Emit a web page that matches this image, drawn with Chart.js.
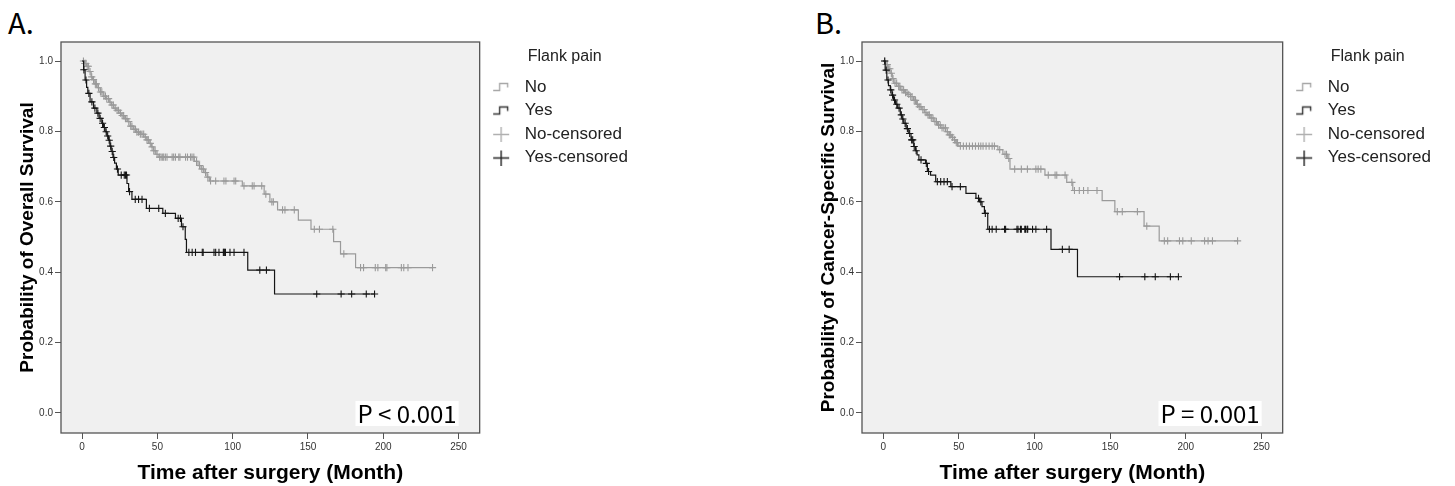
<!DOCTYPE html>
<html>
<head>
<meta charset="utf-8">
<script src="https://cdn.jsdelivr.net/npm/chart.js@4.4.1/dist/chart.umd.min.js"></script>
<style>
  body { margin: 0; background: #fff; width: 1455px; height: 486px; overflow: hidden; position: relative; }
  .panel { position: absolute; top: 0; }
  .tag { position: absolute; top: 7px; line-height: 1; font-family: "Noto Sans CJK SC", "Noto Sans", sans-serif; font-size: 29px; color: #000; }
</style>
</head>
<body>
<div class="tag" style="left:8px">A.</div>
<div class="tag" style="left:815px">B.</div>
<canvas id="chartA" class="panel" style="left:0" width="652" height="486"></canvas>
<canvas id="chartB" class="panel" style="left:801px" width="654" height="486"></canvas>
<script>
const xTicks = [0, 50, 100, 150, 200, 250];
const yTicks = [0, 0.2, 0.4, 0.6, 0.8, 1.0];
const legendNames = ["No", "Yes", "No-censored", "Yes-censored"];

// Panel A - overall survival (months, survival prob.)
const aNoTime = [0, 1.5, 3, 4.5, 6, 7, 8.5, 10, 12, 14, 16, 18, 19.5, 21, 22.5, 24.5, 26, 28, 30, 32, 34, 36, 38.5, 41, 43, 44.5, 46, 47.5, 49, 51, 74.5, 77, 79, 81, 83, 84.5, 106.4, 120.9, 124.7, 129.8, 143.6, 152, 167, 171.6, 181.6];
const aNoSurv = [1, 0.993, 0.985, 0.97, 0.955, 0.947, 0.935, 0.924, 0.912, 0.9, 0.893, 0.883, 0.875, 0.866, 0.86, 0.852, 0.845, 0.836, 0.828, 0.815, 0.806, 0.798, 0.792, 0.784, 0.776, 0.766, 0.756, 0.745, 0.735, 0.727, 0.715, 0.703, 0.693, 0.683, 0.67, 0.659, 0.645, 0.622, 0.6, 0.577, 0.548, 0.522, 0.487, 0.452, 0.413];
const aNoCens = [0.9, 1.8, 2.5, 3.4, 4.2, 5.3, 6.4, 7.6, 8.8, 9.5, 10.9, 12.2, 13.1, 14.5, 15.5, 16.4, 17.6, 18.6, 19.8, 20.8, 22, 23.2, 24.2, 25.5, 26.6, 27.6, 28.8, 29.8, 31, 32.3, 33.1, 34.5, 35.5, 36.4, 37.5, 38.7, 39.8, 40.9, 42, 43.1, 44, 45.3, 46.5, 47.6, 48.5, 49.8, 51.5, 52.5, 53.5, 54.2, 55.3, 56.4, 59.8, 60.8, 62, 64.2, 65, 68.7, 70, 72, 73, 74.2, 76, 78, 79.5, 80.5, 82, 83.5, 85.3, 88.7, 94.2, 95.5, 100.9, 102, 107.5, 113, 114.2, 119.3, 122, 126, 127, 133.1, 134.7, 140.9, 154.2, 157.6, 166.5, 173.8, 184.9, 186.9, 194.7, 196.4, 201.6, 202.4, 212, 213.6, 216.4, 232.7];
const aYesTime = [0, 1, 2, 3, 3.8, 5.3, 7.6, 9.8, 11.3, 13.1, 14.2, 15.3, 16.5, 17.6, 18.5, 19.3, 20.5, 21.6, 22.8, 24, 29.8, 30.9, 33.1, 42.7, 53.6, 62, 66, 68.5, 69.3, 110, 127.8];
const aYesSurv = [1, 0.975, 0.946, 0.925, 0.908, 0.884, 0.866, 0.852, 0.837, 0.823, 0.811, 0.799, 0.787, 0.775, 0.758, 0.743, 0.726, 0.71, 0.693, 0.676, 0.652, 0.629, 0.607, 0.581, 0.567, 0.553, 0.529, 0.493, 0.456, 0.406, 0.338];
const aYesCens = [1.2, 2.6, 4.5, 6.5, 8.5, 10.5, 12, 13.6, 14.8, 16, 17, 18, 19, 20, 21, 23.5, 26, 28, 28.8, 29.5, 31.5, 35.3, 37.5, 39.8, 44.7, 50.9, 55.3, 63.8, 65.3, 67, 70.9, 73.1, 75.3, 79.8, 80.4, 87.6, 88.7, 90.9, 93.8, 94.2, 94.7, 95.2, 98.2, 100.9, 107.5, 118, 122.4, 155.8, 172, 179, 188.7, 194.2];

// Panel B - cancer-specific survival
const bNoTime = [0, 1.5, 3, 4.5, 6, 7, 9, 11.3, 14, 16, 18, 20, 22, 23.6, 25.5, 27.5, 29.1, 31, 33.5, 35.8, 38, 41.3, 43.5, 45, 46.9, 48, 49.5, 75.8, 79.1, 82, 83.8, 106.9, 121.3, 125.3, 144.7, 153.1, 172.4, 182.4];
const bNoSurv = [1, 0.99, 0.978, 0.965, 0.95, 0.937, 0.928, 0.918, 0.91, 0.905, 0.899, 0.888, 0.877, 0.87, 0.862, 0.853, 0.847, 0.838, 0.828, 0.818, 0.81, 0.799, 0.79, 0.783, 0.776, 0.768, 0.758, 0.748, 0.735, 0.723, 0.693, 0.676, 0.655, 0.632, 0.603, 0.572, 0.531, 0.489];
const bNoCens = [1, 1.9, 2.7, 3.6, 4.4, 5.4, 6.5, 7.8, 8.9, 10.2, 11, 12.4, 13.5, 14.8, 15.8, 16.9, 18.2, 19.1, 20.5, 21.4, 22.6, 23.8, 24.9, 26.2, 27.1, 28.3, 29.6, 30.5, 31.8, 32.9, 34.2, 35.2, 36.6, 37.7, 38.9, 40.1, 41.2, 42.4, 43.7, 44.6, 45.8, 47.2, 48.3, 49.1, 51, 53, 55, 57, 59, 61, 63, 64.5, 66, 68, 70, 72, 73.5, 77, 80.5, 81.5, 83, 86.9, 91.3, 95.3, 100.9, 102.4, 104.2, 109.1, 113.6, 114.7, 120.2, 124.7, 126.4, 129.6, 132.4, 135.3, 141.3, 154.7, 158, 168, 174.2, 185.8, 188, 195.8, 198, 203.6, 212.4, 214.7, 217.6, 234.2];
const bYesTime = [0, 1.3, 2.4, 3.5, 4.7, 5.8, 6.9, 8.2, 9.6, 11.3, 12.5, 13.6, 15.2, 16.9, 18.4, 20.2, 21.3, 22.4, 23.6, 28, 29.2, 31.3, 34.7, 44.7, 54.7, 61.3, 63.6, 65.3, 66.9, 69.1, 110.9, 128.4];
const bYesSurv = [1, 0.974, 0.946, 0.93, 0.918, 0.903, 0.889, 0.877, 0.866, 0.847, 0.835, 0.823, 0.808, 0.794, 0.776, 0.757, 0.745, 0.733, 0.719, 0.709, 0.686, 0.676, 0.657, 0.643, 0.624, 0.61, 0.6, 0.586, 0.567, 0.522, 0.465, 0.387];
const bYesCens = [1, 2, 3.2, 5, 6.2, 7.5, 9, 10.5, 12, 13, 14.5, 16, 17.5, 18.8, 19.5, 20.5, 21.8, 25, 28.5, 30, 35.8, 38, 40.2, 42.4, 45.5, 51, 63, 64.5, 67.5, 70.2, 72, 74.7, 80.2, 80.9, 88.4, 89.1, 90.7, 91.3, 93.6, 94, 95.1, 95.5, 98.7, 100.9, 108, 118.4, 122.9, 156.2, 172.9, 179.8, 189.8, 195.1];

const GREY = "#9a9a9a";
const BLACK = "#151515";

// survival value of a step curve at time t
function survAt(times, surv, t) {
    let s = surv[0];
    for (let i = 0; i < times.length; i++) {
        if (times[i] <= t) s = surv[i];
    }
    return s;
}

function curvePoints(times, surv, cens) {
    const pts = times.map((t, i) => ({ x: t, y: surv[i] }));
    const last = Math.max(...cens);
    if (last > times[times.length - 1]) pts.push({ x: last, y: surv[surv.length - 1] });
    return pts;
}

function censorPoints(times, surv, cens) {
    return cens.map(t => ({ x: t, y: survAt(times, surv, t) }));
}

// little legend icons
function stepIcon(color) {
    const c = document.createElement("canvas");
    c.width = 18; c.height = 12;
    const g = c.getContext("2d");
    g.strokeStyle = color; g.lineWidth = 1.4;
    g.beginPath();
    g.moveTo(1, 9.5); g.lineTo(7.5, 9.5); g.lineTo(7.5, 2.5); g.lineTo(15.5, 2.5); g.lineTo(15.5, 6.5);
    g.stroke();
    return c;
}
function crossIcon(color) {
    const c = document.createElement("canvas");
    c.width = 18; c.height = 16;
    const g = c.getContext("2d");
    g.strokeStyle = color; g.lineWidth = 1.4;
    g.beginPath();
    g.moveTo(1, 8.5); g.lineTo(17, 8.5);
    g.moveTo(9, 1); g.lineTo(9, 16);
    g.stroke();
    return c;
}
const legendIcons = [stepIcon("#a8a8a8"), stepIcon("#333"), crossIcon("#b0b0b0"), crossIcon("#222")];

// plot background, frame, p value and legend heading
const decor = {
    id: "decor",
    beforeDraw(chart) {
        const a = chart.chartArea, ctx = chart.ctx;
        ctx.save();
        ctx.fillStyle = "#f0f0f0";
        ctx.fillRect(a.left, a.top, a.right - a.left, a.bottom - a.top);
        ctx.restore();
    },
    afterDraw(chart, args, opts) {
        const a = chart.chartArea, ctx = chart.ctx;
        ctx.save();
        ctx.strokeStyle = "#555";
        ctx.lineWidth = 1.3;
        ctx.strokeRect(a.left, a.top, a.right - a.left, a.bottom - a.top);

        ctx.font = '24px "Noto Sans CJK SC"';
        const w = ctx.measureText(opts.pText).width;
        const right = a.right - 21, bottom = a.bottom - 7;
        ctx.fillStyle = "#fff";
        ctx.fillRect(right - w - 4, bottom - 25, w + 4, 25);
        ctx.fillStyle = "#000";
        ctx.textAlign = "center";
        ctx.textBaseline = "middle";
        ctx.fillText(opts.pText, right - w / 2 - 2, bottom - 12.5);

        ctx.font = '16px "Liberation Sans"';
        ctx.fillStyle = "#222";
        ctx.fillText("Flank pain", chart.legend.left + 85, 57);
        ctx.restore();
    }
};

function makePanel(canvasId, yTitle, pText, noT, noS, noC, yesT, yesS, yesC) {
    const ctx = document.getElementById(canvasId).getContext("2d");
    return new Chart(ctx, {
        type: "scatter",
        data: {
            datasets: [
                { label: "No", data: curvePoints(noT, noS, noC), showLine: true, stepped: "before",
                  borderColor: GREY, borderWidth: 1.2, pointRadius: 0, order: 2 },
                { label: "Yes", data: curvePoints(yesT, yesS, yesC), showLine: true, stepped: "before",
                  borderColor: BLACK, borderWidth: 1.2, pointRadius: 0, order: 1 },
                { label: "No-censored", data: censorPoints(noT, noS, noC), pointStyle: "cross",
                  pointRadius: 3.6, borderColor: GREY, borderWidth: 1.1, order: 2 },
                { label: "Yes-censored", data: censorPoints(yesT, yesS, yesC), pointStyle: "cross",
                  pointRadius: 3.6, borderColor: BLACK, borderWidth: 1.1, order: 1 }
            ]
        },
        options: {
            responsive: false,
            animation: false,
            devicePixelRatio: 1,
            layout: { padding: { top: 42, left: 0, right: 14, bottom: 0 } },
            scales: {
                x: {
                    type: "linear", min: -14, max: 264,
                    afterBuildTicks: s => { s.ticks = xTicks.map(v => ({ value: v })); },
                    afterFit: s => { s.height = 53; },
                    border: { display: false },
                    grid: { drawOnChartArea: false, drawTicks: true, tickLength: 6, color: "#555" },
                    ticks: { font: { family: "Liberation Sans", size: 10 }, color: "#333", padding: 2, maxRotation: 0,
                             callback: v => String(v) },
                    title: { display: true, text: "Time after surgery (Month)", color: "#000",
                             font: { family: "Liberation Sans", size: 21, weight: "bold" },
                             padding: { top: 0, bottom: 0.5 } }
                },
                y: {
                    type: "linear", min: -0.057, max: 1.054,
                    afterBuildTicks: s => { s.ticks = yTicks.map(v => ({ value: v })); },
                    afterFit: s => { s.width = 61; },
                    border: { display: false },
                    grid: { drawOnChartArea: false, drawTicks: true, tickLength: 6, color: "#555" },
                    ticks: { font: { family: "Liberation Sans", size: 10 }, color: "#333", padding: 2,
                             callback: v => Number(v).toFixed(1) },
                    title: { display: true, text: yTitle, color: "#000",
                             font: { family: "Liberation Sans", size: 19, weight: "bold" },
                             padding: { top: 16.5, bottom: 0 } }
                }
            },
            plugins: {
                tooltip: { enabled: false },
                decor: { pText: pText },
                legend: {
                    position: "right",
                    align: "start",
                    title: { display: true, text: "", font: { family: "Liberation Sans", size: 16 },
                             padding: { top: 7, bottom: 3.8 } },
                    labels: {
                        usePointStyle: true,
                        pointStyleWidth: 30,
                        padding: 6.5,
                        color: "#222",
                        font: { family: "Liberation Sans", size: 17 },
                        generateLabels: () => legendNames.map((name, i) => ({
                            text: name, pointStyle: legendIcons[i], fillStyle: "transparent",
                            strokeStyle: "transparent", lineWidth: 0, hidden: false,
                            datasetIndex: i, fontColor: "#222"
                        }))
                    }
                }
            }
        },
        plugins: [decor]
    });
}

makePanel("chartA", "Probability of Overall Survival", "P < 0.001",
    aNoTime, aNoSurv, aNoCens, aYesTime, aYesSurv, aYesCens);
makePanel("chartB", "Probability of Cancer-Specific Survival", "P = 0.001",
    bNoTime, bNoSurv, bNoCens, bYesTime, bYesSurv, bYesCens);
</script>
</body>
</html>
